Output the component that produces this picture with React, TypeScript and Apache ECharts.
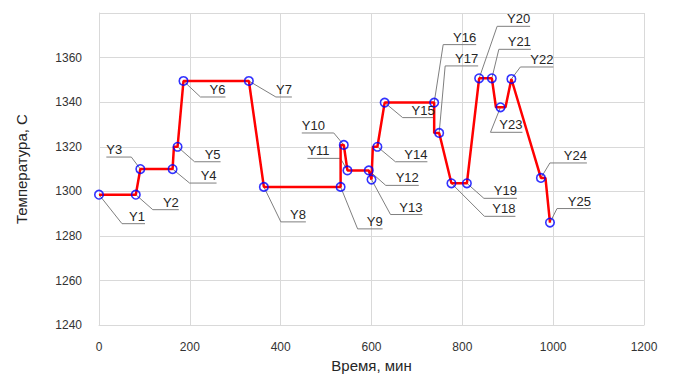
import React, { useEffect, useRef } from "react";
import * as echarts from "echarts";

// Labelled measurement points (time, min ; temperature, C)
const pointNames = [
  "Y1", "Y2", "Y3", "Y4", "Y5", "Y6", "Y7", "Y8", "Y9", "Y10", "Y11", "Y12", "Y13",
  "Y14", "Y15", "Y16", "Y17", "Y18", "Y19", "Y20", "Y21", "Y22", "Y23", "Y24", "Y25",
];
const pointTimes = [
  0, 81, 91, 162, 173, 186, 330, 363, 532, 539, 547, 594, 600,
  613, 629, 738, 749, 776, 810, 837, 865, 908, 884, 973, 993,
];
const pointTemps = [
  1298.5, 1298.5, 1310, 1310, 1320, 1349.5, 1349.5, 1302, 1302, 1320.8, 1309.4, 1309.4, 1305.3,
  1320, 1339.8, 1339.8, 1326.2, 1303.6, 1303.6, 1350.7, 1350.7, 1350.4, 1337.7, 1306, 1286,
];

// Process curve (red line), including corner points
const curveTimes = [
  0, 81, 91, 162, 165, 173, 186, 330, 363, 532, 532, 539, 547, 594, 600, 603, 613, 629,
  738, 738, 749, 776, 810, 837, 865, 874, 884, 895, 908, 973, 983, 993,
];
const curveTemps = [
  1298.5, 1298.5, 1310, 1310, 1320, 1320, 1349.5, 1349.5, 1302, 1302, 1320.8, 1320.8, 1309.4,
  1309.4, 1305.3, 1320, 1320, 1339.8, 1339.8, 1326.2, 1326.2, 1303.6, 1303.6, 1350.7, 1350.7,
  1337.7, 1337.7, 1337.7, 1350.4, 1306, 1306, 1286,
];

const xTicks = [0, 200, 400, 600, 800, 1000, 1200];
const yTicks = [1240, 1260, 1280, 1300, 1320, 1340, 1360, 1380];

// Callout layout: [elbow dx, elbow dy, underline length] in pixels
const calloutLayout: [number, number, number][] = [
  [23, 29, 23], [17, 15, 26], [-9, -12, -25], [17, 14, 27], [17, 15, 26], [17, 16, 25],
  [27, 16, 16], [17, 35, 25], [17, 42, 25], [-10, -12, -32], [-7, -12, -33], [17, 15, 33],
  [19, 35, 32], [18, 15, 32], [18, 15, 32], [9, -58, 33], [6, -67, 33], [33, 33, 31],
  [17, 15, 33], [18, -52, 33], [7, -29, 32], [9, -12, 33], [-10, 25, 32], [9, -15, 37],
  [7, -14, 34],
];

const FONT = "'Liberation Sans', Arial, sans-serif";

export default function App() {
  const ref = useRef<HTMLDivElement>(null);
  useEffect(() => {
    document.body.style.margin = "0";
    const chart = echarts.init(ref.current!, null, { renderer: "svg" });
    const gridColor = "#d9d9d9";
    chart.setOption({
      animation: false,
      backgroundColor: "#ffffff",
      grid: { left: 99, right: 29, top: 13, bottom: 47 },
      xAxis: {
        type: "value",
        min: xTicks[0],
        max: xTicks[xTicks.length - 1],
        interval: xTicks[1] - xTicks[0],
        name: "Время, мин",
        nameLocation: "middle",
        nameGap: 30,
        nameTextStyle: { fontFamily: FONT, fontSize: 15, color: "#262626" },
        axisLine: { show: true, lineStyle: { color: gridColor, width: 1 } },
        axisTick: { show: false },
        splitLine: { show: true, lineStyle: { color: gridColor, width: 1 } },
        axisLabel: {
          fontFamily: FONT, fontSize: 12, color: "#333", margin: 16,
          formatter: (v: number) => String(v),
        },
      },
      yAxis: {
        type: "value",
        min: yTicks[0],
        max: yTicks[yTicks.length - 1],
        interval: yTicks[1] - yTicks[0],
        name: "Температура, С",
        nameLocation: "middle",
        nameGap: 70,
        nameRotate: 90,
        nameTextStyle: { fontFamily: FONT, fontSize: 15, color: "#262626" },
        axisLine: { show: true, lineStyle: { color: gridColor, width: 1 } },
        axisTick: { show: false },
        splitLine: { show: true, lineStyle: { color: gridColor, width: 1 } },
        axisLabel: {
          fontFamily: FONT, fontSize: 12, color: "#333", margin: 17, showMaxLabel: false,
          formatter: (v: number) => String(v),
        },
      },
      series: [
        {
          type: "line",
          data: curveTimes.map((t, i) => [t, curveTemps[i]]),
          showSymbol: false,
          symbol: "none",
          lineStyle: { color: "#ff0000", width: 2.5 },
          z: 2,
        },
        {
          type: "scatter",
          data: pointTimes.map((t, i) => [t, pointTemps[i]]),
          symbol: "circle",
          symbolSize: 8.5,
          itemStyle: { color: "rgba(0,0,0,0)", borderColor: "#0000ff", borderWidth: 1.6 },
          z: 3,
        },
      ],
    });

    const elements: any[] = [];
    pointTimes.forEach((t, i) => {
      const p = chart.convertToPixel({ xAxisIndex: 0, yAxisIndex: 0 }, [t, pointTemps[i]]) as number[];
      const [dx, dy, len] = calloutLayout[i];
      const ex = p[0] + dx;
      const ey = p[1] + dy;
      elements.push({
        type: "polyline",
        shape: { points: [[p[0], p[1]], [ex, ey], [ex + len, ey]] },
        style: { stroke: "#7f7f7f", lineWidth: 1, fill: null },
        silent: true,
        z: 1,
      });
      elements.push({
        type: "text",
        x: ex + len,
        y: ey - 1,
        style: {
          text: pointNames[i],
          textAlign: len >= 0 ? "right" : "left",
          textVerticalAlign: "bottom",
          font: `13px ${FONT}`,
          fill: "#262626",
        },
        silent: true,
        z: 5,
      });
    });
    chart.setOption({ graphic: elements });

    return () => chart.dispose();
  }, []);
  return <div ref={ref} style={{ width: 673, height: 378 }} />;
}
